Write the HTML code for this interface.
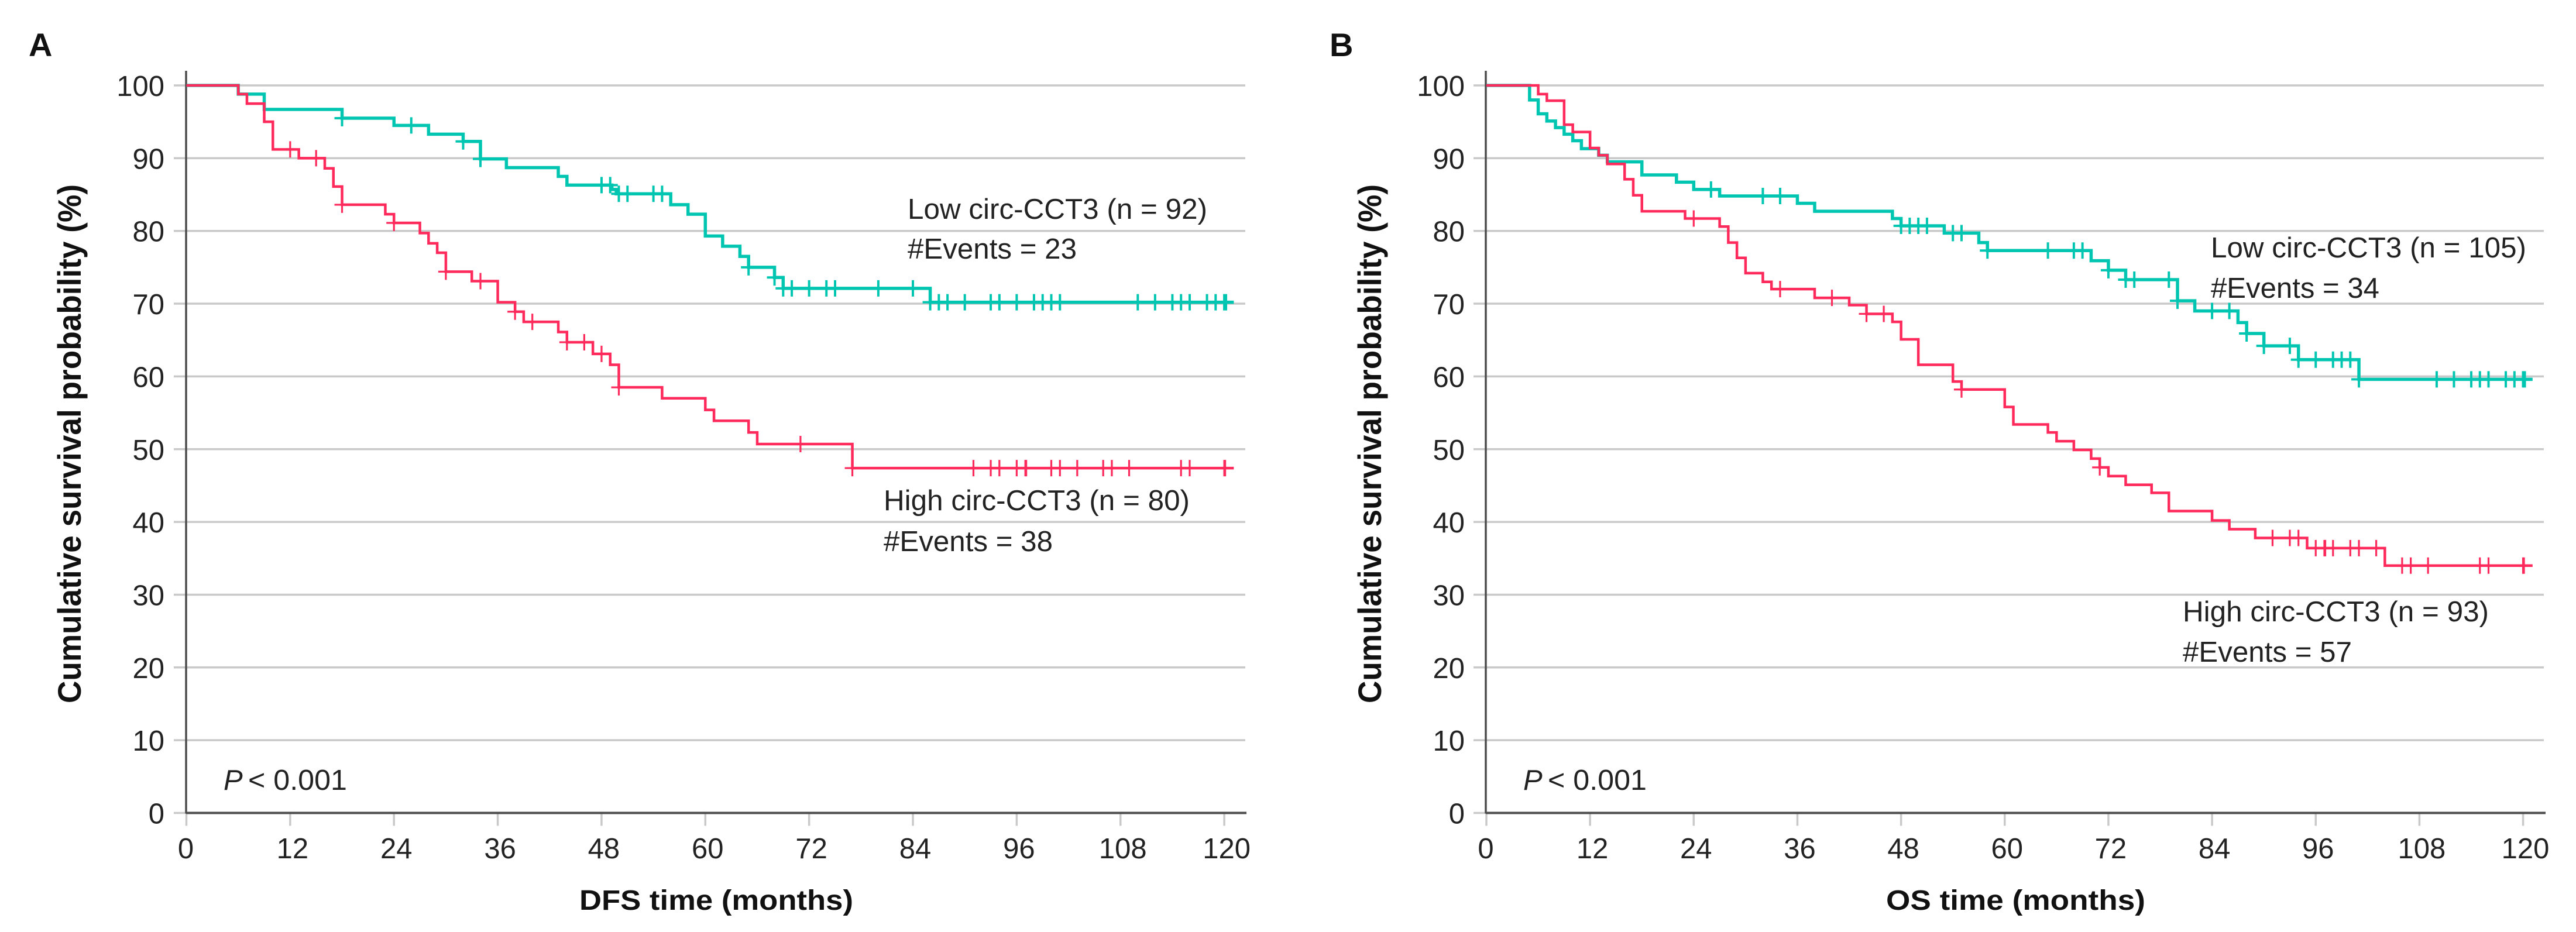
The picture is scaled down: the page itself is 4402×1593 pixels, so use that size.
<!DOCTYPE html>
<html lang="en">
<head>
<meta charset="utf-8">
<title>Kaplan-Meier survival curves by circ-CCT3 expression</title>
<style>
html,body{margin:0;padding:0;background:#fff;}
svg{display:block;}
text{font-family:"Liberation Sans",sans-serif;fill:#222;}
.tick{font-size:49px;}
.note{font-size:49px;}
.title{font-weight:bold;fill:#111;}
</style>
</head>
<body>
<svg id="chart" xmlns="http://www.w3.org/2000/svg" width="4402" height="1593" viewBox="0 0 4402 1593">
  <rect width="4402" height="1593" fill="#fff"/>
  <text class="title" x="49" y="96" font-size="56">A</text>
  <text class="title" x="2272" y="96" font-size="56">B</text>

  <g id="panel-a"></g>
  <g id="panel-b"></g>

  <text class="title" x="138" y="1202" font-size="56" textLength="887" lengthAdjust="spacingAndGlyphs" transform="rotate(-90 138 1202)">Cumulative survival probability (%)</text>
  <text class="title" x="990" y="1555" font-size="48" textLength="468" lengthAdjust="spacingAndGlyphs">DFS time (months)</text>
  <text class="note" x="1551" y="374" textLength="512" lengthAdjust="spacingAndGlyphs">Low circ-CCT3 (n = 92)</text>
  <text class="note" x="1551" y="442" textLength="289" lengthAdjust="spacingAndGlyphs">#Events = 23</text>
  <text class="note" x="1510" y="872" textLength="523" lengthAdjust="spacingAndGlyphs">High circ-CCT3 (n = 80)</text>
  <text class="note" x="1510" y="942" textLength="289" lengthAdjust="spacingAndGlyphs">#Events = 38</text>
  <text class="note" x="382" y="1350" font-style="italic">P</text>
  <text class="note" x="424" y="1350" textLength="169" lengthAdjust="spacingAndGlyphs">&lt; 0.001</text>

  <text class="title" x="2360" y="1202" font-size="56" textLength="887" lengthAdjust="spacingAndGlyphs" transform="rotate(-90 2360 1202)">Cumulative survival probability (%)</text>
  <text class="title" x="3223" y="1555" font-size="48" textLength="443" lengthAdjust="spacingAndGlyphs">OS time (months)</text>
  <text class="note" x="3778" y="440" textLength="539" lengthAdjust="spacingAndGlyphs">Low circ-CCT3 (n = 105)</text>
  <text class="note" x="3778" y="509" textLength="288" lengthAdjust="spacingAndGlyphs">#Events = 34</text>
  <text class="note" x="3730" y="1062" textLength="523" lengthAdjust="spacingAndGlyphs">High circ-CCT3 (n = 93)</text>
  <text class="note" x="3730" y="1131" textLength="289" lengthAdjust="spacingAndGlyphs">#Events = 57</text>
  <text class="note" x="2603" y="1350" font-style="italic">P</text>
  <text class="note" x="2645" y="1350" textLength="169" lengthAdjust="spacingAndGlyphs">&lt; 0.001</text>
</svg>

<script>
const yTickValues = [0, 10, 20, 30, 40, 50, 60, 70, 80, 90, 100];
const xTickValues = [0, 12, 24, 36, 48, 60, 72, 84, 96, 108, 120];
const followUpEnd = 121.1;

const dfsLowTimes = [0, 6, 9, 18, 24, 28, 32, 34, 37, 43, 44, 49.2, 49.7, 56, 58, 60, 62, 64, 65, 68, 69, 86];
const dfsLowSurvival = [100, 98.8, 96.7, 95.5, 94.5, 93.3, 92.3, 89.9, 88.7, 87.5, 86.3, 85.7, 85.1, 83.6, 82.3, 79.3, 77.9, 76.5, 75.0, 73.6, 72.1, 70.2];
const dfsLowCensored = [18, 26, 32, 34, 48, 49, 50, 51, 54, 55, 65, 68, 69, 70, 72, 74, 75, 80, 84, 86, 87, 88, 90, 93, 94, 96, 98, 99, 100, 101, 110, 112, 114, 115, 116, 118, 119, 120, 120.2];

const dfsHighTimes = [0, 6, 7, 9, 10, 13, 16, 17, 18, 23, 24, 27, 28, 29, 30, 33, 36, 38, 39, 43, 44, 47, 49, 50, 55, 60, 61, 65, 66, 77];
const dfsHighSurvival = [100, 98.8, 97.5, 95.0, 91.2, 90.0, 88.6, 86.1, 83.6, 82.3, 81.1, 79.7, 78.3, 77.0, 74.4, 73.1, 70.2, 68.9, 67.5, 66.1, 64.7, 63.1, 61.6, 58.5, 57.0, 55.4, 53.9, 52.3, 50.7, 47.4];
const dfsHighCensored = [12, 15, 18, 24, 30, 34, 38, 40, 44, 46, 48, 50, 71, 77, 91, 93, 94, 96, 97, 97.1, 100, 101, 103, 106, 107, 109, 115, 116, 120, 120.1];

const osLowTimes = [0, 5, 6, 7, 8, 9, 10, 11, 13, 14, 18, 22, 24, 27, 36, 38, 47, 48, 53, 57, 58, 70, 72, 74, 80, 82, 87, 88, 90, 94, 101];
const osLowSurvival = [100, 98.0, 96.1, 95.1, 94.2, 93.3, 92.4, 91.3, 90.4, 89.5, 87.7, 86.7, 85.7, 84.8, 83.8, 82.7, 81.7, 80.7, 79.7, 78.4, 77.3, 75.9, 74.6, 73.3, 70.4, 69.0, 67.4, 65.9, 64.2, 62.3, 59.6];
const osLowCensored = [26, 32, 34, 48, 49, 50, 51, 54, 55, 58, 65, 68, 69, 72, 74, 75, 79, 80, 84, 86, 88, 90, 93, 94, 96, 98, 99, 100, 101, 110, 112, 114, 115, 116, 118, 119, 120, 120.2];

const osHighTimes = [0, 6, 7, 9, 10, 12, 13, 14, 16, 17, 18, 23, 27, 28, 29, 30, 32, 33, 38, 42, 44, 47, 48, 50, 54, 55, 60, 61, 65, 66, 68, 70, 71, 72, 74, 77, 79, 84, 86, 89, 95, 104];
const osHighSurvival = [100, 98.8, 97.9, 94.6, 93.6, 91.4, 90.4, 89.2, 87.1, 84.9, 82.7, 81.7, 80.6, 78.4, 76.3, 74.2, 73.0, 72.0, 70.8, 69.8, 68.6, 67.5, 65.1, 61.6, 59.3, 58.2, 55.8, 53.4, 52.3, 51.1, 49.9, 48.7, 47.5, 46.3, 45.1, 44.0, 41.5, 40.2, 39.0, 37.8, 36.4, 34.0];
const osHighCensored = [24, 34, 40, 44, 46, 55, 71, 91, 93, 94, 96, 97, 97.1, 98, 100, 101, 103, 106, 107, 109, 115, 116, 120, 120.1];

const SVG_NS = 'http://www.w3.org/2000/svg';
const TEAL = '#00c5b1';
const RED = '#ff2a5c';
const GRID = '#c9c9c9';
const AXIS = '#4d4d4d';

// y axis scale shared by both panels
function yScale(v) {
  return 1389.5 - v * 12.435;
}

function make(parent, tag, attrs) {
  const el = document.createElementNS(SVG_NS, tag);
  for (const k in attrs) el.setAttribute(k, attrs[k]);
  parent.appendChild(el);
  return el;
}

function survivalAt(times, survival, t) {
  let value = survival[0];
  for (let i = 0; i < times.length; i++) {
    if (times[i] <= t) value = survival[i];
  }
  return value;
}

function drawSeries(group, xScale, times, survival, censored, color, lineWidth, tickWidth, seriesName) {
  let d = 'M' + xScale(times[0]) + ' ' + yScale(survival[0]);
  for (let i = 1; i < times.length; i++) {
    d += 'H' + xScale(times[i]) + 'V' + yScale(survival[i]);
  }
  d += 'H' + xScale(followUpEnd);
  const line = make(group, 'path', { d: d, fill: 'none', stroke: color, 'stroke-width': lineWidth });
  
  

  censored.forEach(function (t) {
    const cx = xScale(t);
    const cy = yScale(survivalAt(times, survival, t));
    const mark = make(group, 'path', {
      d: 'M' + cx + ' ' + (cy - 14) + 'V' + (cy + 14) + 'M' + (cx - 13) + ' ' + cy + 'H' + (cx + 13),
      fill: 'none', stroke: color, 'stroke-width': tickWidth
    });
    
    
  });
}

function drawPanel(group, x0, pxPerMonth, axisX, gridLeft, gridRight, axisRight, labelRight, prefix) {
  const xScale = function (m) { return x0 + m * pxPerMonth; };

  yTickValues.forEach(function (v) {
    const y = yScale(v);
    if (v > 0) {
      const grid = make(group, 'line', { x1: gridLeft, x2: gridRight, y1: y, y2: y, stroke: GRID, 'stroke-width': 3.5 });
      
      
    } else {
      const tick0 = make(group, 'line', { x1: gridLeft, x2: axisX, y1: y, y2: y, stroke: GRID, 'stroke-width': 3.5 });
      
      
    }
    const label = make(group, 'text', { x: labelRight, y: y + 18, 'text-anchor': 'end', class: 'tick' });
    label.textContent = String(v);
    
    
  });

  xTickValues.forEach(function (m) {
    const x = xScale(m);
    const tick = make(group, 'line', { x1: x, x2: x, y1: yScale(0), y2: yScale(0) + 22, stroke: GRID, 'stroke-width': 3.5 });
    
    
    const label = make(group, 'text', { x: x + (m === 0 ? -1 : 4), y: 1467, 'text-anchor': 'middle', class: 'tick' });
    label.textContent = String(m);
    
    
  });

  const yAxis = make(group, 'line', { x1: axisX, x2: axisX, y1: 121, y2: yScale(0) + 1, stroke: AXIS, 'stroke-width': 3.5 });
  
  
  const xAxis = make(group, 'line', { x1: axisX, x2: axisRight, y1: yScale(0), y2: yScale(0), stroke: AXIS, 'stroke-width': 4 });
  
  

  return xScale;
}

const panelA = document.getElementById('panel-a');
const panelB = document.getElementById('panel-b');

const xA = drawPanel(panelA, 318.5, 14.78, 318, 297, 2128, 2130, 281, 'dfs');
drawSeries(panelA, xA, dfsLowTimes, dfsLowSurvival, dfsLowCensored, TEAL, 5.5, 4, 'dfs-low');
drawSeries(panelA, xA, dfsHighTimes, dfsHighSurvival, dfsHighCensored, RED, 4.5, 3.2, 'dfs-high');

const xB = drawPanel(panelB, 2540, 14.763, 2539, 2518, 4347, 4350, 2503, 'os');
drawSeries(panelB, xB, osLowTimes, osLowSurvival, osLowCensored, TEAL, 5.5, 4, 'os-low');
drawSeries(panelB, xB, osHighTimes, osHighSurvival, osHighCensored, RED, 4.5, 3.2, 'os-high');
</script>
</body>
</html>
